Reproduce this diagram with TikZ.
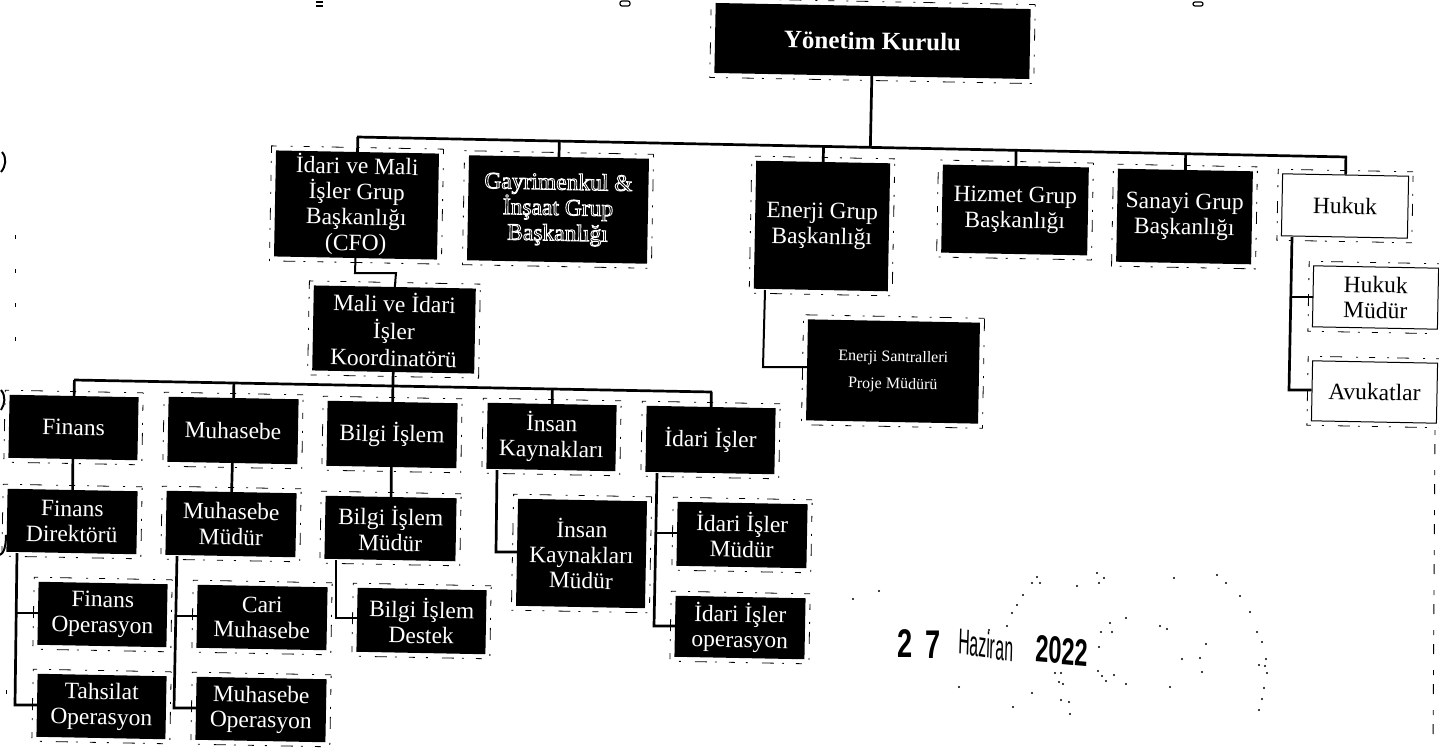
\documentclass[tikz,border=0pt]{standalone}
\usepackage{fontspec}
\setmainfont{Liberation Serif}
\newfontfamily\stampfont{Liberation Sans}
\usetikzlibrary{calc}
\tikzset{
  x=1pt,y=-1pt,
  conn/.style={line width=2.7pt,black,line cap=butt,line join=miter},
  thinconn/.style={line width=2pt,black},
  frame/.style={draw=black,line width=0.8pt,dash pattern=on 6pt off 11pt on 2pt off 14pt on 12pt off 8pt on 2pt off 12pt,inner sep=0pt,rotate=-1.1},
  bbox/.style={fill=black,text=white,inner sep=0pt,align=center,rotate=-1.1,font=\fontsize{23.5}{25.5}\selectfont},
  wbox/.style={draw=black,line width=1pt,fill=white,text=black,inner sep=0pt,align=center,rotate=-1.1,font=\fontsize{23.5}{25.5}\selectfont},
  speck/.style={fill=black,inner sep=0pt,minimum size=2.4pt,circle},
  stamptext/.style={inner sep=0pt,font=\stampfont},
}
\newcommand{\hollow}[1]{\special{pdf:code q 1 Tr 0.9 w 1 1 1 RG}#1\special{pdf:code Q}}
% name, left, top, right, bottom, style, text
\newcommand{\orgbox}[7]{%
  \node[frame,minimum width={(#4-#2+9)*1pt},minimum height={(#5-#3+9)*1pt}] (#1f) at ({(#2+#4)/2},{(#3+#5)/2}) {};
  \node[#6,minimum width={(#4-#2)*1pt},minimum height={(#5-#3)*1pt}] (#1) at ({(#2+#4)/2},{(#3+#5)/2}) {#7};
}
\begin{document}
\begin{tikzpicture}
\useasboundingbox (0,0) rectangle (1439,747);
% upper row
\orgbox{yk}{715}{6}{1030}{76}{bbox,font=\fontsize{25}{27}\selectfont\bfseries}{Yönetim Kurulu}
\orgbox{cfo}{275}{152}{438}{258}{bbox}{İdari ve Mali\\İşler Grup\\Başkanlığı\\(CFO)}
\orgbox{gay}{468}{157}{648}{262}{bbox,font=\fontsize{23.5}{25.5}\selectfont}{\hollow{Gayrimenkul \&}\\\hollow{İnşaat Grup}\\\hollow{Başkanlığı}}
\orgbox{enr}{755}{162}{889}{290}{bbox}{Enerji Grup\\Başkanlığı}
\orgbox{hiz}{942}{166}{1088}{254}{bbox}{Hizmet Grup\\Başkanlığı}
\orgbox{san}{1117}{170}{1252}{263}{bbox}{Sanayi Grup\\Başkanlığı}
\orgbox{huk}{1282}{175}{1408}{237}{wbox}{Hukuk}
\orgbox{enrc}{807}{321}{979}{422}{bbox,font=\fontsize{16}{27}\selectfont}{Enerji Santralleri\\Proje Müdürü}
\orgbox{hukm}{1313}{267}{1438}{328}{wbox}{Hukuk\\Müdür}
\orgbox{avu}{1312}{362}{1437}{422}{wbox}{Avukatlar}
\orgbox{mali}{313}{287}{475}{372}{bbox,font=\fontsize{23.5}{27}\selectfont}{Mali ve İdari\\İşler\\Koordinatörü}
% lower row
\orgbox{fin}{9}{396}{138}{459}{bbox}{Finans}
\orgbox{find}{7}{490}{137}{553}{bbox}{Finans\\Direktörü}
\orgbox{fino}{38}{583}{167}{646}{bbox}{Finans\\Operasyon}
\orgbox{tah}{37}{675}{166}{738}{bbox}{Tahsilat\\Operasyon}
\orgbox{muh}{168}{398}{298}{463}{bbox}{Muhasebe}
\orgbox{muhm}{166}{492}{296}{556}{bbox}{Muhasebe\\Müdür}
\orgbox{cari}{197}{586}{327}{649}{bbox}{Cari\\Muhasebe}
\orgbox{muho}{196}{678}{326}{741}{bbox}{Muhasebe\\Operasyon}
\orgbox{bil}{327}{402}{457}{467}{bbox}{Bilgi İşlem}
\orgbox{bilm}{325}{497}{456}{560}{bbox}{Bilgi İşlem\\Müdür}
\orgbox{bild}{357}{589}{486}{653}{bbox}{Bilgi İşlem\\Destek}
\orgbox{ik}{487}{404}{616}{470}{bbox}{İnsan\\Kaynakları}
\orgbox{ikm}{517}{500}{646}{607}{bbox}{İnsan\\Kaynakları\\Müdür}
\orgbox{ida}{646}{407}{775}{473}{bbox}{İdari İşler}
\orgbox{idam}{677}{503}{807}{567}{bbox}{İdari İşler\\Müdür}
\orgbox{idao}{675}{597}{805}{658}{bbox}{İdari İşler\\operasyon}
% trunks
\coordinate (tl) at (357,137);
\coordinate (tr) at (1347,157);
\coordinate (ul) at (74,380);
\coordinate (ur) at (712,392);
\draw[conn] (tl) -- (tr);
\draw[conn] (ul) -- (ur);
\draw[conn] (yk.south) -- ($(tl)!(yk.south)!(tr)$);
\foreach \n in {cfo,gay,enr,hiz,san,huk}
  \draw[conn] (\n.north) -- ($(tl)!(\n.north)!(tr)$);
\draw[conn] (mali.south) -- ($(ul)!(mali.south)!(ur)$);
\foreach \n in {fin,muh,bil,ik,ida}
  \draw[conn] (\n.north) -- ($(ul)!(\n.north)!(ur)$);
% elbow between CFO and coordinator
\coordinate (e1) at (355,273);
\coordinate (e2) at (396,273);
\draw[thinconn] (cfo.south) -- (e1) -- (e2) -- (mali.north);
% straight links
\draw[conn] (fin.south) -- (find.north);
\draw[conn] (muh.south) -- (muhm.north);
\draw[conn] (bil.south) -- (bilm.north);
% side branches
\coordinate (a0) at (17,553);  \coordinate (a1) at (16,613); \coordinate (a2) at (15,705);
\draw[conn] (a0) -- (a2) -- (a2 -| tah.west);
\draw[conn] (a1) -- (a1 -| fino.west);
\coordinate (b0) at (177,556); \coordinate (b1) at (176,616); \coordinate (b2) at (174,708);
\draw[conn] (b0) -- (b2) -- (b2 -| muho.west);
\draw[conn] (b1) -- (b1 -| cari.west);
\coordinate (c0) at (336,560); \coordinate (c1) at (336,618);
\draw[conn] (c0) -- (c1) -- (c1 -| bild.west);
\coordinate (d0) at (497,470); \coordinate (d1) at (496,552);
\draw[conn] (d0) -- (d1) -- (d1 -| ikm.west);
\coordinate (f0) at (657,473); \coordinate (f1) at (656,533); \coordinate (f2) at (654,626);
\draw[conn] (f0) -- (f2) -- (f2 -| idao.west);
\draw[conn] (f1) -- (f1 -| idam.west);
\coordinate (g0) at (765,290); \coordinate (g1) at (763,367);
\draw[thinconn] (g0) -- (g1) -- (g1 -| enrc.west);
\coordinate (h0) at (1292,237); \coordinate (h1) at (1292,297); \coordinate (h2) at (1289,390);
\draw[conn] (h0) -- (h2) -- (h2 -| avu.west);
\draw[conn] (h1) -- (h1 -| hukm.west);
% date stamp
\node[stamptext,font=\stampfont\fontsize{40}{40}\selectfont\bfseries,xscale=0.68] (d2) at (905,644) {2};
\node[stamptext,font=\stampfont\fontsize{40}{40}\selectfont\bfseries,xscale=0.68] (d7) at (933,645) {7};
\node[stamptext,font=\stampfont\fontsize{36}{36}\selectfont,xscale=0.44,rotate=-4] (dh) at (986,645) {Haziran};
\node[stamptext,font=\stampfont\fontsize{38}{38}\selectfont\bfseries,xscale=0.62,rotate=-3] (dy) at (1062,651) {2022};
\foreach \p/\q in {853/599,879/591,959/687,989/630,1037/577,1032/583,1040/583,1077/586,1023/595,1017/605,1012/613,1007/626,1097/573,1104/578,1099/583,1174/578,1217/575,1226/583,1110/623,1126/618,1101/632,1112/632,1099/647,1160/626,1167/629,1206/644,1182/659,1200/658,1202/672,1257/632,1262/642,1259/665,1266/659,1265/666,1267/673,1264/688,1262/699,1259/710,1098/671,1102/676,1106/681,1114/675,1126/684,1170/687,1055/673,1061/673,1059/682,1063/684,1032/693,1013/707,1061/700,1069/702,1070/714,1240/596,1250/612}
  \node[speck] at (\p,\q) {};
% scan marks at the edges
\draw[line width=1.6pt] (316,2) -- (323,2) (316,6) -- (323,6);
\draw[line width=1.2pt,rounded corners=2pt] (620,1) rectangle (630,6);
\draw[line width=1.2pt,rounded corners=2pt] (1193,2) rectangle (1203,6);
\draw[line width=2pt] (2,152) .. controls (7,158) and (6,166) .. (1,172);
\draw[line width=2pt] (1,390) .. controls (6,396) and (5,404) .. (1,410);
\draw[line width=2pt] (6,535) .. controls (6,546) and (4,553) .. (0,555);
\draw[line width=0.9pt,dash pattern=on 5pt off 9pt on 10pt off 16pt] (1435,430) -- (1433,745);
\draw[line width=0.9pt,dash pattern=on 4pt off 30pt] (15,235) -- (15,350);
\draw[line width=0.9pt,dash pattern=on 4pt off 20pt] (6,690) -- (6,696);
\end{tikzpicture}
\end{document}
